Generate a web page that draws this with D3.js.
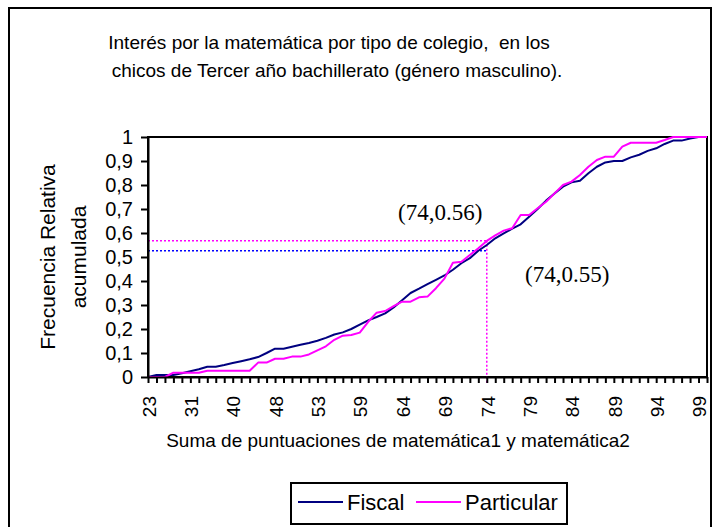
<!DOCTYPE html>
<html>
<head>
<meta charset="utf-8">
<script src="https://cdnjs.cloudflare.com/ajax/libs/d3/7.8.5/d3.min.js"></script>
<style>
  body { margin: 0; background: #fff; }
  svg { display: block; font-family: Arial, "Liberation Sans", sans-serif; }
</style>
</head>
<body>
<svg id="chart" width="715" height="527"></svg>
<script>
// puntajes (categorias del eje x)
var categories = [23, 24, 26, 28, 30, 31, 33, 34, 36, 38, 40, 41, 43, 45, 46, 48, 49, 50, 51, 52,
  53, 54, 55, 56, 57, 59, 60, 61, 62, 63, 64, 65, 66, 67, 68, 69, 70, 71, 72, 73,
  74, 75, 76, 77, 78, 79, 80, 81, 82, 83, 84, 85, 86, 87, 88, 89, 90, 91, 92, 93,
  94, 95, 96, 97, 98, 99, 100];
var labeledCategories = [23, 31, 40, 48, 53, 59, 64, 69, 74, 79, 84, 89, 94, 99];

var fiscal = [0, 0.008, 0.008, 0.008, 0.016, 0.024, 0.032, 0.043, 0.043, 0.05,
  0.058, 0.066, 0.074, 0.083, 0.1, 0.118, 0.118, 0.126, 0.134, 0.142,
  0.151, 0.163, 0.177, 0.186, 0.2, 0.218, 0.236, 0.25, 0.265, 0.29,
  0.32, 0.35, 0.368, 0.387, 0.405, 0.423, 0.447, 0.474, 0.495, 0.526,
  0.55, 0.578, 0.598, 0.618, 0.636, 0.668, 0.7, 0.735, 0.765, 0.793,
  0.811, 0.818, 0.849, 0.876, 0.894, 0.9, 0.9, 0.915, 0.926, 0.942,
  0.953, 0.971, 0.985, 0.985, 0.994, 1, 1];
var particular = [0, 0, 0, 0.018, 0.018, 0.018, 0.018, 0.026, 0.026, 0.026,
  0.026, 0.026, 0.026, 0.06, 0.06, 0.076, 0.076, 0.085, 0.085, 0.094,
  0.111, 0.128, 0.155, 0.172, 0.175, 0.185, 0.23, 0.268, 0.275, 0.295,
  0.314, 0.314, 0.332, 0.335, 0.37, 0.41, 0.476, 0.48, 0.508, 0.536,
  0.567, 0.59, 0.61, 0.62, 0.675, 0.675, 0.703, 0.73, 0.765, 0.8,
  0.814, 0.842, 0.876, 0.904, 0.918, 0.918, 0.96, 0.976, 0.976, 0.976,
  0.976, 0.9875, 1, 1, 1, 1, 1];

var yTicks = [0, 0.1, 0.2, 0.3, 0.4, 0.5, 0.6, 0.7, 0.8, 0.9, 1];
var yTickLabels = ["0", "0,1", "0,2", "0,3", "0,4", "0,5", "0,6", "0,7", "0,8", "0,9", "1"];

// punto marcado en x = 74
var markX = 74;
var markFiscal = 0.526;
var markParticular = 0.568;

var titleLines = ["Interés por la matemática por tipo de colegio,  en los",
  "chicos de Tercer año bachillerato (género masculino)."];
var seriesNames = ["Fiscal", "Particular"];
var seriesColors = ["#000080", "#ff00ff"];

// (no usar "top": choca con window.top)
var plotLeft = 148, plotRight = 707, plotTop = 137, plotBottom = 377;

var svg = d3.select("#chart");

svg.append("rect")
  .attr("x", 9).attr("y", 8)
  .attr("width", 702).attr("height", 540)
  .attr("fill", "#fff").attr("stroke", "#000").attr("stroke-width", 2);

var x = d3.scalePoint().domain(categories).range([plotLeft, plotRight]);
var y = d3.scaleLinear().domain([0, 1]).range([plotBottom, plotTop]);

// titulo
var titleX = [329, 337];
svg.append("text")
  .attr("font-size", 19)
  .attr("text-anchor", "middle")
  .style("white-space", "pre")
  .selectAll("tspan").data(titleLines)
  .enter().append("tspan")
  .attr("x", function (d, i) { return titleX[i]; })
  .attr("y", function (d, i) { return 49 + i * 28; })
  .text(function (d) { return d; });

// area del grafico
svg.append("rect")
  .attr("x", plotLeft).attr("y", plotTop)
  .attr("width", plotRight - plotLeft).attr("height", plotBottom - plotTop)
  .attr("fill", "none").attr("stroke", "#000").attr("stroke-width", 2);

// lineas de referencia punteadas
svg.append("line")
  .attr("x1", plotLeft).attr("x2", x(markX))
  .attr("y1", y(markParticular)).attr("y2", y(markParticular))
  .attr("stroke", "#ff00ff").attr("stroke-width", 1.5).attr("stroke-dasharray", "2,2");
svg.append("line")
  .attr("x1", plotLeft).attr("x2", x(markX))
  .attr("y1", y(markFiscal)).attr("y2", y(markFiscal))
  .attr("stroke", "#0000ff").attr("stroke-width", 1.5).attr("stroke-dasharray", "2,2");
svg.append("line")
  .attr("x1", x(markX)).attr("x2", x(markX))
  .attr("y1", y(markParticular)).attr("y2", plotBottom + 6)
  .attr("stroke", "#ff00ff").attr("stroke-width", 1.5).attr("stroke-dasharray", "2,2");

// series
var line = d3.line()
  .x(function (d, i) { return x(categories[i]); })
  .y(function (d) { return y(d); });

[fiscal, particular].forEach(function (values, k) {
  svg.append("path")
    .datum(values)
    .attr("d", line)
    .attr("fill", "none")
    .attr("stroke", seriesColors[k])
    .attr("stroke-width", 2)
    .attr("stroke-linejoin", "round");
});

// ejes
var yAxis = d3.axisLeft(y)
  .tickValues(yTicks)
  .tickSize(7)
  .tickSizeOuter(0)
  .tickPadding(8)
  .tickFormat(function (d, i) { return yTickLabels[i]; });
var gy = svg.append("g").attr("transform", "translate(" + plotLeft + ",0)").call(yAxis);
gy.select(".domain").attr("stroke-width", 2);
gy.selectAll(".tick line").attr("stroke-width", 2);
gy.selectAll(".tick text").attr("font-size", 20).attr("fill", "#000").attr("font-family", null);

var xAxis = d3.axisBottom(x)
  .tickSize(6)
  .tickSizeOuter(0)
  .tickFormat(function (d) { return labeledCategories.indexOf(d) >= 0 ? d : ""; });
var gx = svg.append("g").attr("transform", "translate(0," + plotBottom + ")").call(xAxis);
gx.select(".domain").attr("stroke-width", 2);
gx.selectAll(".tick line").attr("stroke-width", 2);
gx.selectAll(".tick text")
  .attr("font-size", 19).attr("fill", "#000").attr("font-family", null)
  .attr("text-anchor", "end")
  .attr("transform", "translate(0,19) rotate(-90)")
  .attr("x", 0).attr("y", 0).attr("dy", "0.38em");

// titulos de ejes
svg.append("text")
  .attr("x", 398).attr("y", 447)
  .attr("text-anchor", "middle").attr("font-size", 19)
  .text("Suma de puntuaciones de matemática1 y matemática2");

var yTitle = svg.append("text")
  .attr("transform", "translate(55,257) rotate(-90)")
  .attr("text-anchor", "middle").attr("font-size", 21);
yTitle.append("tspan").attr("x", 0).attr("y", 0).text("Frecuencia Relativa");
yTitle.append("tspan").attr("x", 0).attr("y", 31).text("acumulada");

// anotaciones
svg.append("text")
  .attr("x", 398).attr("y", 220)
  .attr("font-family", "'Times New Roman', 'Liberation Serif', serif")
  .attr("font-size", 23)
  .text("(" + markX + ",0.56)");
svg.append("text")
  .attr("x", 525).attr("y", 282)
  .attr("font-family", "'Times New Roman', 'Liberation Serif', serif")
  .attr("font-size", 23)
  .text("(" + markX + ",0.55)");

// leyenda
var legend = svg.append("g");
legend.append("rect")
  .attr("x", 291).attr("y", 483)
  .attr("width", 276).attr("height", 41)
  .attr("fill", "#fff").attr("stroke", "#000").attr("stroke-width", 2);
var legendX = [298, 416];
seriesNames.forEach(function (name, k) {
  legend.append("line")
    .attr("x1", legendX[k]).attr("x2", legendX[k] + 45)
    .attr("y1", 502).attr("y2", 502)
    .attr("stroke", seriesColors[k]).attr("stroke-width", 2);
  legend.append("text")
    .attr("x", legendX[k] + 49).attr("y", 510)
    .attr("font-size", 22)
    .text(name);
});
</script>
</body>
</html>
